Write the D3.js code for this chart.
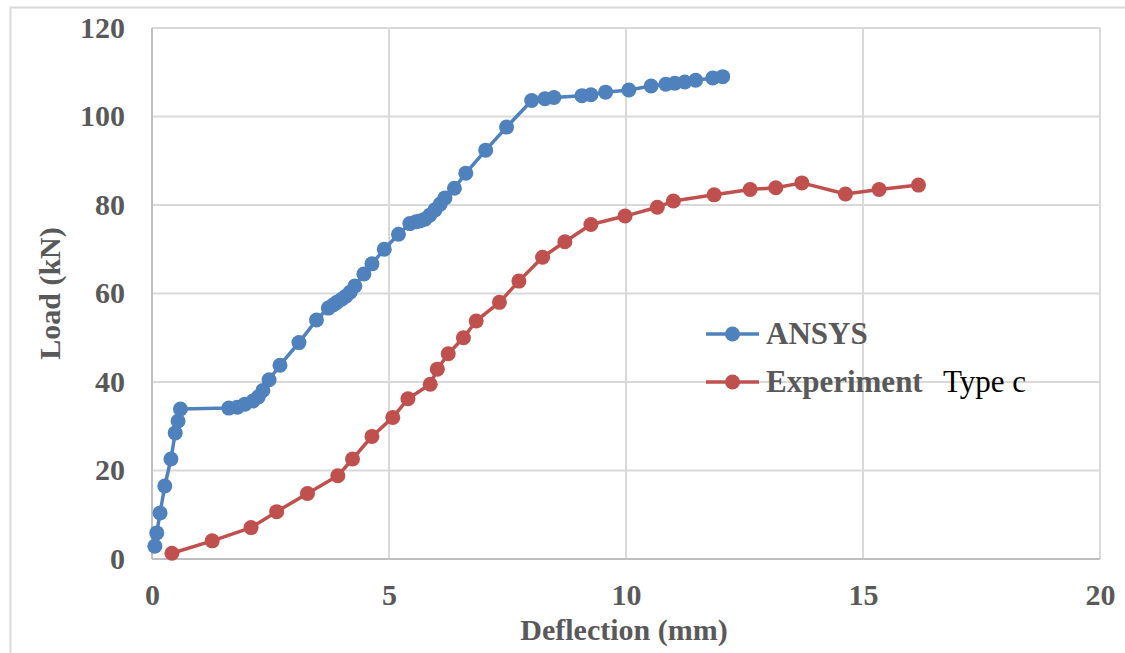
<!DOCTYPE html>
<html>
<head>
<meta charset="utf-8">
<script src="https://cdn.jsdelivr.net/npm/d3@7"></script>
<style>
  body { margin: 0; background: #fff; }
  svg text { font-family: "Liberation Serif", "Times New Roman", serif; }
</style>
</head>
<body>
<div id="chart"></div>
<script>
// Load–deflection curves
const ansysDefl = [0.06, 0.1, 0.17, 0.27, 0.4, 0.49, 0.55, 0.6, 1.62, 1.8, 1.96, 2.13, 2.24, 2.34, 2.47, 2.7, 3.1, 3.47, 3.72, 3.82, 3.9, 4.0, 4.09, 4.18, 4.28, 4.47, 4.64, 4.9, 5.2, 5.44, 5.57, 5.65, 5.76, 5.86, 5.97, 6.08, 6.18, 6.38, 6.62, 7.04, 7.48, 8.01, 8.29, 8.48, 9.07, 9.26, 9.57, 10.06, 10.53, 10.84, 11.03, 11.24, 11.47, 11.83, 12.04];
const ansysLoad = [2.9, 5.9, 10.4, 16.5, 22.6, 28.5, 31.2, 33.9, 34.1, 34.3, 35.0, 35.7, 36.6, 38.1, 40.5, 43.8, 48.9, 54.0, 56.7, 57.4, 58.0, 58.7, 59.4, 60.3, 61.7, 64.4, 66.7, 70.0, 73.4, 75.8, 76.2, 76.4, 76.8, 77.7, 78.9, 80.2, 81.6, 83.8, 87.2, 92.4, 97.6, 103.6, 104.0, 104.3, 104.7, 104.9, 105.5, 106.0, 106.9, 107.3, 107.5, 107.8, 108.2, 108.7, 109.0];

const expDefl = [0.42, 1.27, 2.09, 2.63, 3.28, 3.92, 4.23, 4.64, 5.08, 5.4, 5.87, 6.02, 6.25, 6.57, 6.84, 7.33, 7.74, 8.24, 8.71, 9.26, 9.98, 10.66, 11.0, 11.86, 12.62, 13.16, 13.71, 14.63, 15.34, 16.17];
const expLoad = [1.3, 4.1, 7.1, 10.7, 14.8, 18.8, 22.6, 27.7, 32.0, 36.2, 39.5, 42.9, 46.4, 50.0, 53.8, 58.0, 62.8, 68.2, 71.7, 75.6, 77.5, 79.5, 80.9, 82.3, 83.5, 83.9, 85.0, 82.5, 83.5, 84.5];

const xTicks = [0, 5, 10, 15, 20];
const yTicks = [0, 20, 40, 60, 80, 100, 120];

const seriesNames = ["ANSYS", "Experiment"];
const seriesColors = ["#4F81BD", "#C0504D"];

const series = [
  { name: seriesNames[0], color: seriesColors[0], values: ansysDefl.map((d, i) => ({ x: d, y: ansysLoad[i] })) },
  { name: seriesNames[1], color: seriesColors[1], values: expDefl.map((d, i) => ({ x: d, y: expLoad[i] })) }
];

const width = 1125, height = 653;
const plot = { left: 152, right: 1100, top: 28, bottom: 559 };

const svg = d3.select("#chart").append("svg")
  .attr("width", width)
  .attr("height", height);

// chart frame
svg.append("rect")
  .attr("x", 10.5).attr("y", 7.5)
  .attr("width", width + 20).attr("height", height + 20)
  .attr("fill", "#fff")
  .attr("stroke", "#D9D9D9")
  .attr("stroke-width", 2);

const x = d3.scaleLinear().domain([0, 20]).range([plot.left, plot.right]);
const y = d3.scaleLinear().domain([0, 120]).range([plot.bottom, plot.top]);

// gridlines
svg.append("g")
  .selectAll("line.hgrid")
  .data(yTicks.slice(1))
  .join("line")
  .attr("x1", plot.left).attr("x2", plot.right)
  .attr("y1", d => y(d)).attr("y2", d => y(d))
  .attr("stroke", "#D9D9D9").attr("stroke-width", 2);

svg.append("g")
  .selectAll("line.vgrid")
  .data(xTicks.slice(1))
  .join("line")
  .attr("x1", d => x(d)).attr("x2", d => x(d))
  .attr("y1", plot.top).attr("y2", plot.bottom)
  .attr("stroke", "#D9D9D9").attr("stroke-width", 2);

// axis lines
svg.append("line")
  .attr("x1", plot.left).attr("x2", plot.right)
  .attr("y1", plot.bottom).attr("y2", plot.bottom)
  .attr("stroke", "#BFBFBF").attr("stroke-width", 2);
svg.append("line")
  .attr("x1", plot.left).attr("x2", plot.left)
  .attr("y1", plot.top).attr("y2", plot.bottom)
  .attr("stroke", "#BFBFBF").attr("stroke-width", 2);

// tick labels
const xAxis = d3.axisBottom(x).tickValues(xTicks).tickSize(0).tickPadding(25);
const xg = svg.append("g")
  .attr("transform", `translate(0,${plot.bottom})`)
  .call(xAxis);
xg.select(".domain").remove();
xg.selectAll("text")
  .attr("font-family", "Liberation Serif, serif")
  .attr("font-size", 30).attr("font-weight", "bold").attr("fill", "#595959");

const yAxis = d3.axisLeft(y).tickValues(yTicks).tickSize(0).tickPadding(27);
const yg = svg.append("g")
  .attr("transform", `translate(${plot.left},0)`)
  .call(yAxis);
yg.select(".domain").remove();
yg.selectAll("text")
  .attr("font-family", "Liberation Serif, serif")
  .attr("font-size", 30).attr("font-weight", "bold").attr("fill", "#595959")
  .attr("dy", "0.3em");

// axis titles
svg.append("text")
  .attr("x", (plot.left + plot.right) / 2 - 2)
  .attr("y", 640)
  .attr("text-anchor", "middle")
  .attr("font-size", 30).attr("font-weight", "bold").attr("fill", "#595959")
  .text("Deflection (mm)");

svg.append("text")
  .attr("transform", `translate(60,${(plot.top + plot.bottom) / 2}) rotate(-90)`)
  .attr("text-anchor", "middle")
  .attr("font-size", 30).attr("font-weight", "bold").attr("fill", "#595959")
  .text("Load (kN)");

// series
const line = d3.line().x(d => x(d.x)).y(d => y(d.y));

const sg = svg.append("g").selectAll("g.series")
  .data(series)
  .join("g");

sg.append("path")
  .attr("d", d => line(d.values))
  .attr("fill", "none")
  .attr("stroke", d => d.color)
  .attr("stroke-width", 3.5)
  .attr("stroke-linejoin", "round");

sg.each(function (s) {
  d3.select(this).selectAll("circle")
    .data(s.values)
    .join("circle")
    .attr("cx", d => x(d.x))
    .attr("cy", d => y(d.y))
    .attr("r", 7.5)
    .attr("fill", s.color);
});

// legend
const legend = svg.append("g").attr("transform", "translate(706,334)");
const item = legend.selectAll("g")
  .data(series)
  .join("g")
  .attr("transform", (d, i) => `translate(0,${i * 48})`);
item.append("line")
  .attr("x1", 0).attr("x2", 53)
  .attr("stroke", d => d.color).attr("stroke-width", 3.5);
item.append("circle")
  .attr("cx", 26.5).attr("r", 7.5)
  .attr("fill", d => d.color);
item.append("text")
  .attr("x", 60).attr("dy", "0.33em")
  .attr("font-size", 31).attr("font-weight", "bold").attr("fill", "#595959")
  .text(d => d.name);

svg.append("text")
  .attr("x", 943).attr("y", 392)
  .attr("font-size", 31).attr("fill", "#000")
  .text("Type c");
</script>
</body>
</html>
